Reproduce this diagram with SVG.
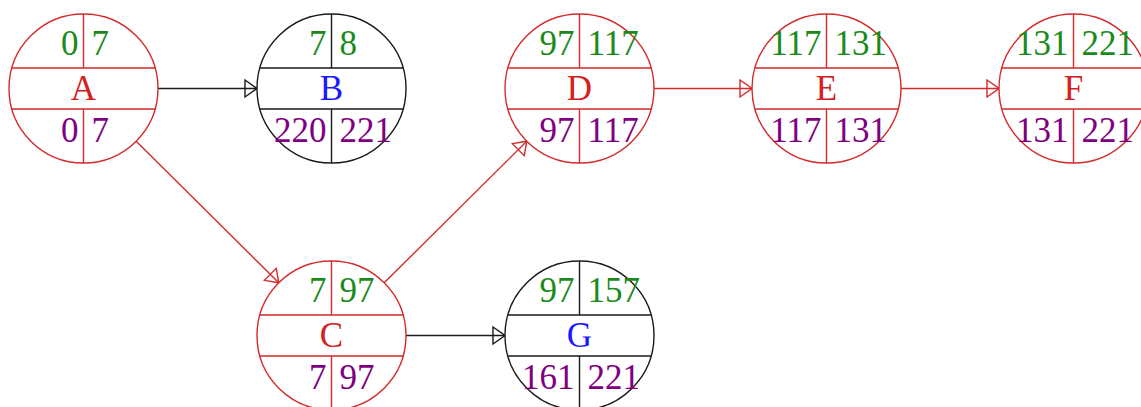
<svg xmlns="http://www.w3.org/2000/svg" width="1141" height="407" viewBox="0 0 1141 407">
  <style>
    .crit { stroke: #d42a2a; }
    .norm { stroke: #1a1a1a; }
    .ring { fill: #ffffff; stroke-width: 1.4; }
    .div { stroke-width: 1.4; fill: none; }
    .edge { stroke-width: 1.4; fill: none; }
    text { font-family: "Liberation Serif", "Times New Roman", serif; font-size: 35px; }
    .es { fill: #1a8a1a; }
    .ls { fill: #800080; }
    .l { text-anchor: end; }
    .r { text-anchor: start; }
    .name { text-anchor: middle; }
    .name-crit { fill: #d42020; }
    .name-norm { fill: #1a1aff; }
  </style>
  <defs>
    <marker id="head-red" markerUnits="userSpaceOnUse" markerWidth="14" markerHeight="20" viewBox="0 0 14 20" refX="13" refY="10" orient="auto">
      <path d="M1,1.5 L13,10 L1,18.5 Z" fill="none" stroke="#d42a2a" stroke-width="1.4"/>
    </marker>
    <marker id="head-black" markerUnits="userSpaceOnUse" markerWidth="14" markerHeight="20" viewBox="0 0 14 20" refX="13" refY="10" orient="auto">
      <path d="M1,1.5 L13,10 L1,18.5 Z" fill="none" stroke="#1a1a1a" stroke-width="1.4"/>
    </marker>
  </defs>

  <!-- connectors -->
  <g id="connectors">
    <line class="edge norm" x1="158" y1="88.5" x2="257" y2="88.5" marker-end="url(#head-black)"/>
    <line class="edge crit" x1="136.2" y1="141.2" x2="278.8" y2="282.8" marker-end="url(#head-red)"/>
    <line class="edge crit" x1="384.2" y1="282.8" x2="526.8" y2="141.2" marker-end="url(#head-red)"/>
    <line class="edge crit" x1="654" y1="88.5" x2="752" y2="88.5" marker-end="url(#head-red)"/>
    <line class="edge crit" x1="901" y1="88.5" x2="999" y2="88.5" marker-end="url(#head-red)"/>
    <line class="edge norm" x1="406" y1="335.5" x2="505" y2="335.5" marker-end="url(#head-black)"/>
  </g>

  <!-- node A -->
  <g id="node-A" transform="translate(83.5,88.5)">
    <circle class="ring crit" r="74.5"/>
    <path class="div crit" d="M-71.6,-20.5 H71.6 M-71.6,20.5 H71.6 M0,-74.5 V-20.5 M0,20.5 V74.5"/>
    <text class="es l" x="-5" y="-33.5">0</text>
    <text class="es r" x="8" y="-33.5">7</text>
    <text class="name name-crit" x="0" y="11.5">A</text>
    <text class="ls l" x="-5" y="53.5">0</text>
    <text class="ls r" x="8" y="53.5">7</text>
  </g>

  <!-- node B -->
  <g id="node-B" transform="translate(331.5,88.5)">
    <circle class="ring norm" r="74.5"/>
    <path class="div norm" d="M-71.6,-20.5 H71.6 M-71.6,20.5 H71.6 M0,-74.5 V-20.5 M0,20.5 V74.5"/>
    <text class="es l" x="-5" y="-33.5">7</text>
    <text class="es r" x="8" y="-33.5">8</text>
    <text class="name name-norm" x="0" y="11.5">B</text>
    <text class="ls l" x="-5" y="53.5">220</text>
    <text class="ls r" x="8" y="53.5">221</text>
  </g>

  <!-- node C -->
  <g id="node-C" transform="translate(331.5,335.5)">
    <circle class="ring crit" r="74.5"/>
    <path class="div crit" d="M-71.6,-20.5 H71.6 M-71.6,20.5 H71.6 M0,-74.5 V-20.5 M0,20.5 V74.5"/>
    <text class="es l" x="-5" y="-33.5">7</text>
    <text class="es r" x="8" y="-33.5">97</text>
    <text class="name name-crit" x="0" y="11.5">C</text>
    <text class="ls l" x="-5" y="53.5">7</text>
    <text class="ls r" x="8" y="53.5">97</text>
  </g>

  <!-- node D -->
  <g id="node-D" transform="translate(579.5,88.5)">
    <circle class="ring crit" r="74.5"/>
    <path class="div crit" d="M-71.6,-20.5 H71.6 M-71.6,20.5 H71.6 M0,-74.5 V-20.5 M0,20.5 V74.5"/>
    <text class="es l" x="-5" y="-33.5">97</text>
    <text class="es r" x="8" y="-33.5">117</text>
    <text class="name name-crit" x="0" y="11.5">D</text>
    <text class="ls l" x="-5" y="53.5">97</text>
    <text class="ls r" x="8" y="53.5">117</text>
  </g>

  <!-- node E -->
  <g id="node-E" transform="translate(826.5,88.5)">
    <circle class="ring crit" r="74.5"/>
    <path class="div crit" d="M-71.6,-20.5 H71.6 M-71.6,20.5 H71.6 M0,-74.5 V-20.5 M0,20.5 V74.5"/>
    <text class="es l" x="-5" y="-33.5">117</text>
    <text class="es r" x="8" y="-33.5">131</text>
    <text class="name name-crit" x="0" y="11.5">E</text>
    <text class="ls l" x="-5" y="53.5">117</text>
    <text class="ls r" x="8" y="53.5">131</text>
  </g>

  <!-- node F -->
  <g id="node-F" transform="translate(1073.5,88.5)">
    <circle class="ring crit" r="74.5"/>
    <path class="div crit" d="M-71.6,-20.5 H71.6 M-71.6,20.5 H71.6 M0,-74.5 V-20.5 M0,20.5 V74.5"/>
    <text class="es l" x="-5" y="-33.5">131</text>
    <text class="es r" x="8" y="-33.5">221</text>
    <text class="name name-crit" x="0" y="11.5">F</text>
    <text class="ls l" x="-5" y="53.5">131</text>
    <text class="ls r" x="8" y="53.5">221</text>
  </g>

  <!-- node G -->
  <g id="node-G" transform="translate(579.5,335.5)">
    <circle class="ring norm" r="74.5"/>
    <path class="div norm" d="M-71.6,-20.5 H71.6 M-71.6,20.5 H71.6 M0,-74.5 V-20.5 M0,20.5 V74.5"/>
    <text class="es l" x="-5" y="-33.5">97</text>
    <text class="es r" x="8" y="-33.5">157</text>
    <text class="name name-norm" x="0" y="11.5">G</text>
    <text class="ls l" x="-5" y="53.5">161</text>
    <text class="ls r" x="8" y="53.5">221</text>
  </g>
</svg>
